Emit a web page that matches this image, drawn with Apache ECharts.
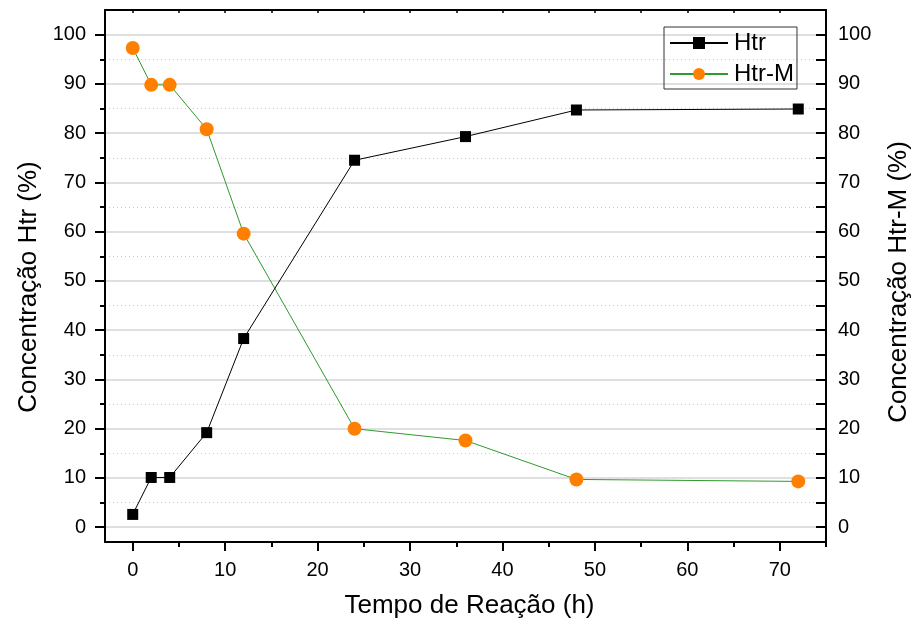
<!DOCTYPE html>
<html>
<head>
<meta charset="utf-8">
<script src="https://cdn.jsdelivr.net/npm/echarts@6/dist/echarts.min.js"></script>
<style>
  html, body { margin: 0; padding: 0; background: #fff; }
  #chart { width: 912px; height: 624px; }
</style>
</head>
<body>
<div id="chart"></div>
<script>
// Reaction time (h)
const tempo = [0, 2, 4, 8, 12, 24, 36, 48, 72];
// Concentration of Htr (%)
const htr = [2.6, 10.1, 10.1, 19.2, 38.3, 74.5, 79.3, 84.7, 84.9];
// Concentration of Htr-M (%)
const htrM = [97.3, 89.8, 89.8, 80.8, 59.6, 20.0, 17.6, 9.7, 9.3];

// Tick positions
const xMajor = [0, 10, 20, 30, 40, 50, 60, 70];
const xMinor = [5, 15, 25, 35, 45, 55, 65, 75];
const xTop = [0, 5, 10, 15, 20, 25, 30, 35, 40, 45, 50, 55, 60, 65, 70, 75];
const yMajor = [0, 10, 20, 30, 40, 50, 60, 70, 80, 90, 100];
const yMinor = [5, 15, 25, 35, 45, 55, 65, 75, 85, 95];

const FONT = '"Liberation Sans", Arial, sans-serif';
const X_MIN = -3, X_MAX = 75, Y_MIN = -3, Y_MAX = 105;

const pairs = (xs, ys) => xs.map((x, i) => [x, ys[i]]);

const chart = echarts.init(document.getElementById('chart'), null, { renderer: 'canvas' });

const blackLine = { show: true, lineStyle: { color: '#000', width: 2 } };

chart.setOption({
  animation: false,
  backgroundColor: '#fff',
  textStyle: { fontFamily: FONT },
  grid: { left: 105, right: 86, top: 10, bottom: 82, containLabel: false, outerBoundsMode: 'none' },
  legend: {
    left: 664, top: 27,
    orient: 'vertical',
    itemWidth: 58, itemHeight: 15, itemGap: 7,
    padding: [4, 3, 3, 5],
    borderColor: '#333', borderWidth: 1, borderRadius: 0,
    textStyle: { fontSize: 24, color: '#000', fontFamily: FONT, lineHeight: 24, padding: [0, 0, 0, 1] },
    data: ['Htr', 'Htr-M']
  },
  xAxis: [
    {
      type: 'value', position: 'bottom', min: X_MIN, max: X_MAX,
      name: 'Tempo de Reação (h)', nameLocation: 'middle', nameGap: 51,
      nameTextStyle: { fontSize: 26, color: '#000', fontFamily: FONT, padding: [0, 0, 0, 8] },
      axisLine: Object.assign({ onZero: false }, blackLine),
      axisTick: { show: true, inside: false, length: 9, customValues: xMajor, lineStyle: { color: '#000', width: 2 } },
      axisLabel: { show: true, customValues: xMajor, fontSize: 20, color: '#000', margin: 18, fontFamily: FONT },
      splitLine: { show: false }
    },
    {
      type: 'value', position: 'bottom', min: X_MIN, max: X_MAX,
      axisLine: { show: false, onZero: false },
      axisTick: { show: true, inside: false, length: 5, customValues: xMinor, lineStyle: { color: '#000', width: 2 } },
      axisLabel: { show: false },
      splitLine: { show: false }
    },
    {
      type: 'value', position: 'top', min: X_MIN, max: X_MAX,
      axisLine: Object.assign({ onZero: false }, blackLine),
      axisTick: { show: true, inside: true, length: 3, customValues: xTop, lineStyle: { color: '#000', width: 1.5 } },
      axisLabel: { show: false },
      splitLine: { show: false }
    }
  ],
  yAxis: [
    {
      type: 'value', position: 'left', min: Y_MIN, max: Y_MAX,
      name: 'Concentração Htr (%)', nameLocation: 'middle', nameGap: 63, nameRotate: 90,
      nameTextStyle: { fontSize: 26, color: '#000', fontFamily: FONT, padding: [0, 22, 0, 0] },
      axisLine: Object.assign({ onZero: false }, blackLine),
      axisTick: { show: true, inside: false, length: 10, customValues: yMajor, lineStyle: { color: '#000', width: 2 } },
      axisLabel: { show: true, customValues: yMajor, fontSize: 20, color: '#000', margin: 19, fontFamily: FONT },
      splitLine: { show: true, lineStyle: { color: '#d4d4d4', width: 1.5, type: 'solid' } }
    },
    {
      type: 'value', position: 'right', min: Y_MIN, max: Y_MAX,
      name: 'Concentração Htr-M (%)', nameLocation: 'middle', nameGap: 60, nameRotate: 90,
      nameTextStyle: { fontSize: 26, color: '#000', fontFamily: FONT, padding: [0, 12, 0, 0] },
      axisLine: Object.assign({ onZero: false }, blackLine),
      axisTick: { show: true, inside: true, length: 10, customValues: yMajor, lineStyle: { color: '#000', width: 2 } },
      axisLabel: { show: true, inside: false, customValues: yMajor, fontSize: 20, color: '#000', margin: 12, fontFamily: FONT },
      splitLine: { show: false }
    },
    {
      type: 'value', position: 'left', min: Y_MIN, max: Y_MAX,
      axisLine: { show: false, onZero: false },
      axisTick: { show: true, inside: false, length: 5, customValues: yMinor, lineStyle: { color: '#000', width: 2 } },
      axisLabel: { show: false },
      splitLine: { show: true, lineStyle: { color: '#c8c8c8', width: 1, type: [1, 3] } }
    },
    {
      type: 'value', position: 'right', min: Y_MIN, max: Y_MAX,
      axisLine: { show: false, onZero: false },
      axisTick: { show: true, inside: true, length: 10, customValues: yMinor, lineStyle: { color: '#000', width: 2 } },
      axisLabel: { show: false },
      splitLine: { show: false }
    }
  ],
  series: [
    {
      name: 'Htr', type: 'line', xAxisIndex: 0, yAxisIndex: 0,
      data: pairs(tempo, htr),
      symbol: 'rect', symbolSize: 11,
      lineStyle: { color: '#000', width: 1 },
      itemStyle: { color: '#000' },
      z: 3
    },
    {
      name: 'Htr-M', type: 'line', xAxisIndex: 0, yAxisIndex: 1,
      data: pairs(tempo, htrM),
      symbol: 'circle', symbolSize: 14,
      lineStyle: { color: '#2f9a2f', width: 1 },
      itemStyle: { color: '#ff8000' },
      z: 2
    }
  ]
});
</script>
</body>
</html>
